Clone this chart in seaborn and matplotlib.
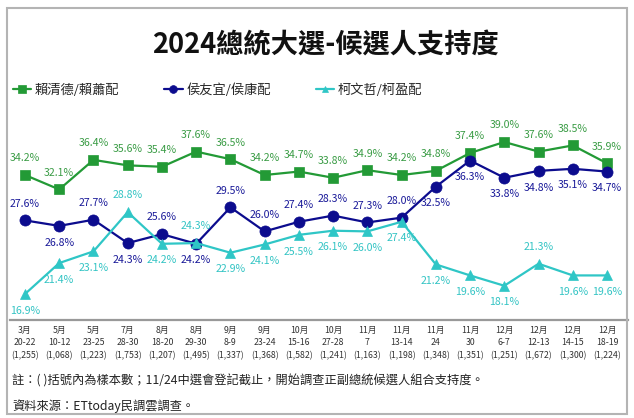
# -*- coding: utf-8 -*-
"""
2024總統大選 候選人支持度 折線圖
"""

import matplotlib
matplotlib.use('Agg')
import matplotlib.pyplot as plt
import pandas as pd
import seaborn as sns
from matplotlib.patches import Rectangle

# ========== 全局設置 ==========
sns.set_theme(style='white')
plt.rcParams['font.family'] = ['Noto Sans CJK TC', 'DejaVu Sans']
plt.rcParams['axes.unicode_minus'] = False

# ========== 數據 ==========
months = ['3月', '5月', '5月', '7月', '8月', '8月', '9月', '9月', '10月',
          '10月', '11月', '11月', '11月', '11月', '12月', '12月', '12月', '12月']
days = ['20-22', '10-12', '23-25', '28-30', '18-20', '29-30', '8-9', '23-24', '15-16',
        '27-28', '7', '13-14', '24', '30', '6-7', '12-13', '14-15', '18-19']
samples = ['1,255', '1,068', '1,223', '1,753', '1,207', '1,495', '1,337', '1,368', '1,582',
           '1,241', '1,163', '1,198', '1,348', '1,351', '1,251', '1,672', '1,300', '1,224']

names = ['賴清德/賴蕭配', '侯友宜/侯康配', '柯文哲/柯盈配']
lai = [34.2, 32.1, 36.4, 35.6, 35.4, 37.6, 36.5, 34.2, 34.7,
       33.8, 34.9, 34.2, 34.8, 37.4, 39.0, 37.6, 38.5, 35.9]
hou = [27.6, 26.8, 27.7, 24.3, 25.6, 24.2, 29.5, 26.0, 27.4,
       28.3, 27.3, 28.0, 32.5, 36.3, 33.8, 34.8, 35.1, 34.7]
ko = [16.9, 21.4, 23.1, 28.8, 24.2, 24.3, 22.9, 24.1, 25.5,
      26.1, 26.0, 27.4, 21.2, 19.6, 18.1, 21.3, 19.6, 19.6]

# 標籤位置（1 = 上方, -1 = 下方）
lai_side = [1] * 18
hou_side = [1, -1, 1, -1, 1, -1, 1, 1, 1, 1, 1, 1, -1, -1, -1, -1, -1, -1]
ko_side = [-1, -1, -1, 1, -1, 1, -1, -1, -1, -1, -1, -1, -1, -1, -1, 1, -1, -1]

colors = ['#239a36', '#0c0c8e', '#2fc6c6']
label_colors = ['#3a9c45', '#1a1a99', '#33c4c4']
markers = ['s', 'o', '^']
msizes = [7.5, 8, 7]

x = list(range(len(months)))
df = pd.DataFrame({'idx': x, names[0]: lai, names[1]: hou, names[2]: ko})

# ========== 繪圖 ==========
fig = plt.figure(figsize=(6.34, 4.18), dpi=100)
ax = fig.add_axes([10 / 634, 98 / 418, 618 / 634, 210 / 418])

for name, c, m, ms in zip(names, colors, markers, msizes):
    sns.lineplot(data=df, x='idx', y=name, ax=ax, color=c, marker=m,
                 markersize=ms, markeredgecolor=c, markeredgewidth=0.5,
                 linewidth=1.6, label=name)

for vals, sides, c in zip([lai, hou, ko], [lai_side, hou_side, ko_side], label_colors):
    for i, (v, s) in enumerate(zip(vals, sides)):
        ax.annotate(f'{v:.1f}%', (i, v), xytext=(0, 12 * s), textcoords='offset points',
                    ha='center', va='center', fontsize=7.6, color=c)

ax.set_xlim(-0.438, 17.613)
ax.set_ylim(13.12, 43.65)
ax.set_xticks(x)
ax.set_xticklabels([f'{m}\n{d}\n({s})' for m, d, s in zip(months, days, samples)],
                   fontsize=6.3, color='#333333', linespacing=1.55)
ax.tick_params(axis='x', length=0, pad=4)
ax.set_yticks([])
ax.set_xlabel('')
ax.set_ylabel('')
for side in ['top', 'right', 'left']:
    ax.spines[side].set_visible(False)
ax.spines['bottom'].set_color('#999999')
ax.spines['bottom'].set_linewidth(1.6)

# 圖例
ax.legend(loc='center left', bbox_to_anchor=(13 / 634, 1 - 90 / 418),
          bbox_transform=fig.transFigure, ncol=3, frameon=False, fontsize=9.5,
          handlelength=1.4, handletextpad=0.25, columnspacing=3.4,
          borderaxespad=0, borderpad=0, markerscale=0.7)

# 標題
fig.text(325 / 634, 1 - 45 / 418, '2024總統大選-候選人支持度', ha='center', va='center',
         fontsize=19.6, fontweight='bold', color='#111111')

# 註解
fig.text(12 / 634, 1 - 381 / 418,
         '註：( )括號內為樣本數；11/24中選會登記截止，開始調查正副總統候選人組合支持度。',
         ha='left', va='center', fontsize=8.8, color='#222222')
fig.text(12 / 634, 1 - 406 / 418, '資料來源：ETtoday民調雲調查。',
         ha='left', va='center', fontsize=8.8, color='#222222')

# 外框
fig.patches.append(Rectangle((7 / 634, 1 - 414 / 418), 620 / 634, 406 / 418,
                             transform=fig.transFigure, fill=False,
                             edgecolor='#b4b4b4', linewidth=1.5))

fig.savefig('out.png', dpi=100)
